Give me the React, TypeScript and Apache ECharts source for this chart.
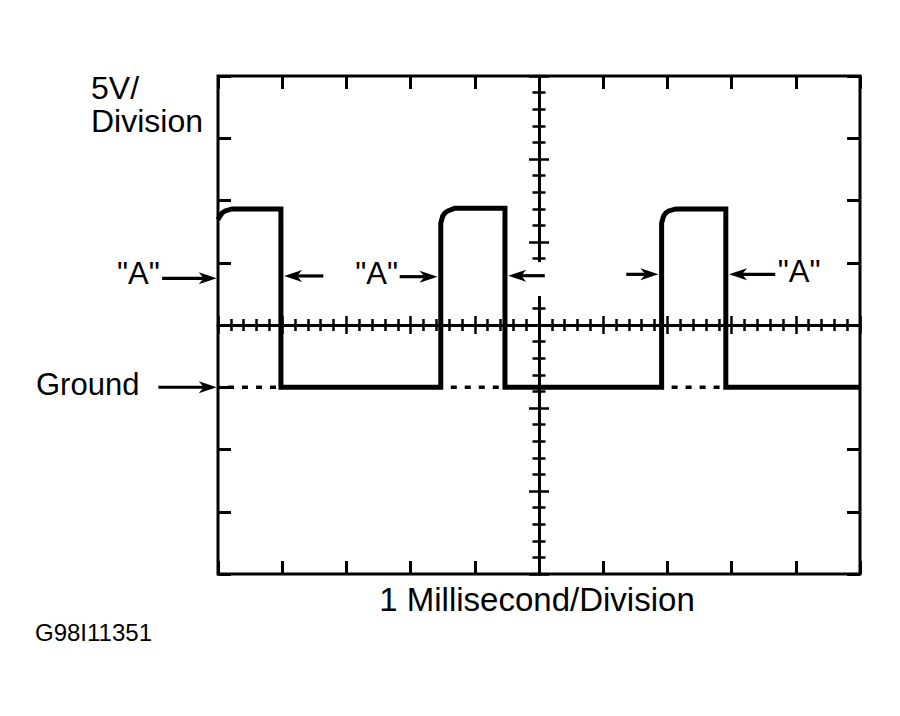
import React, { useEffect, useRef } from 'react';
import * as echarts from 'echarts';

// ---- data (time in ms, voltage in V relative to ground; 5 V / division) ----
const TIME_MIN_MS = 0;
const TIME_MAX_MS = 10;
const TIME_DIV_MS = 1;
const VOLT_MIN = -15;
const VOLT_MAX = 25;
const VOLT_DIV = 5;

const waveTimeMs = [0, 0.03, 0.064, 0.11, 0.22, 0.98, 0.98, 3.47, 3.47, 3.5, 3.534, 3.58, 3.69, 4.47, 4.47, 6.91, 6.91, 6.94, 6.974, 7.02, 7.13, 7.91, 7.91, 10];
const waveVolts = [13.47, 13.75, 14.0, 14.16, 14.32, 14.32, 0, 0, 13.19, 13.75, 14.0, 14.16, 14.38, 14.38, 0, 0, 13.19, 13.75, 14.0, 14.16, 14.32, 14.32, 0, 0];

const groundDottedStartMs = [0, 3.47, 6.91];
const groundDottedEndMs = [0.98, 4.47, 7.91];

const arrowTailMs = [-0.87, -0.93, 1.64, 2.83, 5.09, 6.36, 8.68];
const arrowTipMs = [-0.02, -0.02, 1.03, 3.42, 4.52, 6.86, 7.96];
const arrowVolts = [8.75, 0, 8.94, 8.88, 8.96, 9.07, 9.07];

const FONT = '"Liberation Sans", Arial, Helvetica, sans-serif';

export default function App() {
  const ref = useRef<HTMLDivElement>(null);

  useEffect(() => {
    if (!ref.current) return;
    const chart = echarts.init(ref.current, undefined, { renderer: 'svg' });

    const frameX = (pos: string) => ({
      type: 'value', position: pos, min: TIME_MIN_MS, max: TIME_MAX_MS, interval: TIME_DIV_MS,
      axisLine: { show: false, onZero: false },
      axisTick: { show: true, inside: true, length: 13, lineStyle: { color: '#000', width: 3 } },
      axisLabel: { show: false }, splitLine: { show: false },
    });
    const frameY = (pos: string) => ({
      type: 'value', position: pos, min: VOLT_MIN, max: VOLT_MAX, interval: VOLT_DIV,
      axisLine: { show: false, onZero: false },
      axisTick: { show: true, inside: true, length: 13, lineStyle: { color: '#000', width: 3 } },
      axisLabel: { show: false }, splitLine: { show: false },
    });
    const crossX = (pos: string) => ({
      type: 'value', position: pos, offset: -249, min: 0, max: 10, interval: 1,
      axisLine: { show: pos === 'bottom', onZero: false, lineStyle: { color: '#000', width: 3 } },
      axisTick: { show: true, length: 9, lineStyle: { color: '#000', width: 2.5 } },
      minorTick: { show: true, splitNumber: 5, length: 6, lineStyle: { color: '#000', width: 2.5 } },
      axisLabel: { show: false }, splitLine: { show: false }, minorSplitLine: { show: false },
    });
    const crossY = (pos: string) => ({
      type: 'value', position: pos, offset: -321, min: -15, max: 15, interval: 5,
      axisLine: { show: pos === 'left', onZero: false, lineStyle: { color: '#000', width: 3 } },
      axisTick: { show: true, length: 10, lineStyle: { color: '#000', width: 2.5 } },
      minorTick: { show: true, splitNumber: 5, length: 6.5, lineStyle: { color: '#000', width: 2.5 } },
      axisLabel: { show: false }, splitLine: { show: false }, minorSplitLine: { show: false },
    });

    const waveData = waveTimeMs.map((t, i) => [t, waveVolts[i]]);
    const dottedSeries = groundDottedStartMs.map((s, i) => ({
      type: 'line', xAxisIndex: 0, yAxisIndex: 0, symbol: 'none', clip: false, z: 4,
      data: [[s, 0], [groundDottedEndMs[i], 0]],
      lineStyle: { color: '#000', width: 3.5, type: [6, 8], dashOffset: 4 },
    }));
    const arrowData = arrowTailMs.map((t, i) => [t, arrowTipMs[i], arrowVolts[i]]);

    const text = (t: string, x: number, y: number, size: number, align = 'left') => ({
      type: 'text', x, y, z: 10,
      style: {
        text: t, fill: '#000', fontSize: size, fontFamily: FONT,
        align, verticalAlign: 'middle', textAlign: align, textVerticalAlign: 'middle',
      },
    });

    chart.setOption({
      animation: false,
      backgroundColor: '#fff',
      grid: { left: 218, top: 76, width: 642, height: 498, show: true, borderColor: '#000', borderWidth: 3, backgroundColor: 'transparent' },
      xAxis: [frameX('bottom'), frameX('top'), crossX('bottom'), crossX('top')],
      yAxis: [frameY('left'), frameY('right'), crossY('left'), crossY('right')],
      series: [
        {
          type: 'line', xAxisIndex: 0, yAxisIndex: 0, symbol: 'none', showSymbol: false, clip: false, z: 5,
          data: waveData,
          lineStyle: { color: '#000', width: 5, join: 'miter', cap: 'butt' },
        },
        ...dottedSeries,
        {
          type: 'custom', xAxisIndex: 0, yAxisIndex: 0, clip: false, z: 6,
          data: arrowData,
          encode: { x: [0, 1], y: 2 },
          renderItem: (params: any, api: any) => {
            const tail = api.coord([api.value(0), api.value(2)]);
            const tip = api.coord([api.value(1), api.value(2)]);
            const dir = tip[0] > tail[0] ? 1 : -1;
            const headLen = 18;
            const half = 6;
            const notch = 5;
            return {
              type: 'group',
              children: [
                {
                  type: 'line',
                  shape: { x1: tail[0], y1: tail[1], x2: tip[0] - dir * (headLen - notch), y2: tip[1] },
                  style: { stroke: '#000', lineWidth: 3.2 },
                },
                {
                  type: 'polygon',
                  shape: {
                    points: [
                      [tip[0], tip[1]],
                      [tip[0] - dir * headLen, tip[1] - half],
                      [tip[0] - dir * (headLen - notch), tip[1]],
                      [tip[0] - dir * headLen, tip[1] + half],
                    ],
                  },
                  style: { fill: '#000' },
                },
              ],
            };
          },
        },
      ],
      graphic: {
        elements: [
          { type: 'rect', z: 1, shape: { x: 528, y: 262, width: 22, height: 34 }, style: { fill: '#fff' } },
          text('5V/', 91, 88, 32),
          text('Division', 91, 120.5, 32),
          text('"A"', 138.3, 273.3, 31, 'center'),
          text('"A"', 376.7, 273.3, 31, 'center'),
          text('"A"', 799.2, 271.7, 31, 'center'),
          text('Ground', 36, 384, 31),
          text('1 Millisecond/Division', 537, 599, 33, 'center'),
          text('G98I11351', 35, 632, 24),
        ],
      },
    });

    return () => chart.dispose();
  }, []);

  return (
    <div
      ref={ref}
      style={{ position: 'fixed', left: 0, top: 0, width: 900, height: 716, background: '#fff' }}
    />
  );
}
